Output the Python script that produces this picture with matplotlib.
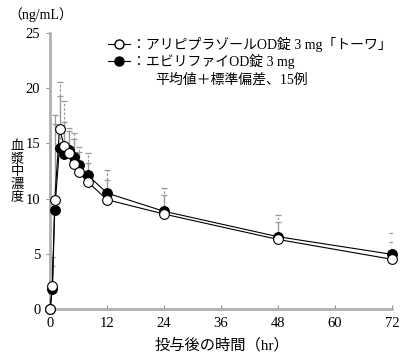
import matplotlib
matplotlib.use("Agg")
import matplotlib.pyplot as plt
from matplotlib.lines import Line2D

plt.rcParams['font.family'] = ['Liberation Serif', 'Noto Sans CJK JP']

time_h = [0, 0.5, 1, 2, 3, 4, 5, 6, 8, 12, 24, 48, 72]
toowa_mean = [0, 2.1, 9.85, 16.3, 14.8, 14.1, 13.1, 12.4, 11.5, 9.9, 8.6, 6.3, 4.5]
toowa_sd = [0, 2.6, 7.75, 3.0, 2.1, 2.0, 2.3, 1.8, 1.7, 1.8, 1.7, 1.6, 1.6]
abilify_mean = [0, 1.8, 9.0, 14.6, 14.0, 14.4, 13.8, 13.0, 12.1, 10.5, 8.85, 6.55, 4.95]
abilify_sd = [0, 2.1, 7.8, 6.0, 4.8, 2.0, 2.1, 1.7, 2.0, 2.1, 2.15, 1.95, 1.95]

x_ticks = [0, 12, 24, 36, 48, 60, 72]
y_ticks = [0, 5, 10, 15, 20, 25]

label_toowa = "：アリピプラゾールOD錠 3 mg「トーワ」"
label_abilify = "：エビリファイOD錠 3 mg"
note = "平均値＋標準偏差、15例"

fig = plt.figure(figsize=(4.0, 3.6), dpi=100)
ax = fig.add_axes([50/400, 51/360, 342/400, 276/360])

# error bars (upper only)
eb1 = ax.errorbar(time_h, abilify_mean, yerr=[[0]*len(abilify_sd), abilify_sd],
                  fmt='none', ecolor='#999999', elinewidth=0.9, capsize=2.5,
                  capthick=0.9, zorder=2)
for lc in eb1[2]:
    lc.set_linestyle((0, (2, 1.5)))
eb2 = ax.errorbar(time_h, toowa_mean, yerr=[[0]*len(toowa_sd), toowa_sd],
                  fmt='none', ecolor='#999999', elinewidth=0.9, capsize=2.5,
                  capthick=0.9, zorder=2)

ax.plot(time_h, abilify_mean, '-', color='black', lw=0.8, marker='o',
        ms=7, mfc='black', mec='black', mew=0.8, zorder=3, clip_on=False)
ax.plot(time_h, toowa_mean, '-', color='black', lw=0.8, marker='o',
        ms=7, mfc='white', mec='black', mew=0.8, zorder=4, clip_on=False)

ax.set_xlim(0, 72)
ax.set_ylim(0, 25)
ax.set_xticks(x_ticks)
ax.set_yticks(y_ticks)
for s in ['top', 'right']:
    ax.spines[s].set_visible(False)
for s in ['left', 'bottom']:
    ax.spines[s].set_color('#b0b0b0')
    ax.spines[s].set_linewidth(2)
ax.tick_params(axis='x', direction='in', length=3, color='#909090',
               labelsize=10.5, pad=6)
ax.tick_params(axis='y', direction='out', length=3, color='#909090',
               labelsize=10.5, pad=4)

# legend
h1 = Line2D([], [], color='black', lw=0.8, marker='o', ms=6.5, mfc='white', mec='black')
h2 = Line2D([], [], color='black', lw=0.8, marker='o', ms=6.5, mfc='black', mec='black')
leg = ax.legend([h1, h2], [label_toowa, label_abilify], loc='upper left',
                bbox_to_anchor=(58/342, 1 - 4/276), frameon=False,
                handlelength=1.6, handletextpad=0.1, labelspacing=0.15,
                borderaxespad=0, borderpad=0, fontsize=10)
fig.text(155/400, 1 - 80/360, note, fontsize=10, va='center', ha='left')

fig.text(8/400, 1 - 15/360, "（ng/mL）", fontsize=10, va='center', ha='left')
fig.text(17/400, 1 - 172/360, "血\n漿\n中\n濃\n度", fontsize=9.5, va='center',
         ha='center', linespacing=1.05)
fig.text(222/400, 1 - 345/360, "投与後の時間（hr）", fontsize=11, va='center',
         ha='center')

fig.savefig("out.png", dpi=100)
